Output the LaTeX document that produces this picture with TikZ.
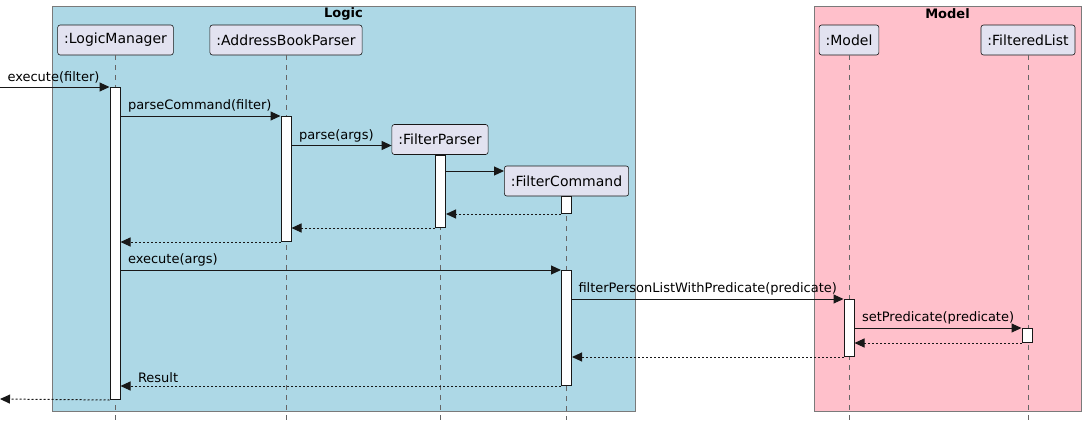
\documentclass[tikz,border=0pt]{standalone}
\usepackage{fontspec}
\setmainfont{DejaVu Sans}
\usetikzlibrary{arrows.meta}
\definecolor{logicblue}{HTML}{ADD8E6}
\definecolor{modelpink}{HTML}{FFC0CB}
\definecolor{partfill}{HTML}{E2E2F0}
\definecolor{ink}{HTML}{181818}
\definecolor{framegray}{HTML}{7A7A7A}
\definecolor{lifegray}{HTML}{666666}

\begin{document}
\begin{tikzpicture}[x=1pt,y=-1pt]
		\useasboundingbox (0,0) rectangle (1087,423);
		\begin{scope}
            [
                frame/.style = {draw=framegray, line width=1pt, anchor=north west, inner sep=0pt, minimum height=405pt},
				title/.style = {font=\fontsize{13}{15}\selectfont\bfseries, inner sep=0pt}
            ]
			\node(logic)[frame, fill=logicblue, minimum width=583pt] at (52,6) {};
			\node(model)[frame, fill=modelpink, minimum width=267pt] at (814,6) {};
			\node(logicT)[title] at (343.5,14) {Logic};
			\node(modelT)[title] at (947.5,14) {Model};
		\end{scope}
		\begin{scope}
            [
                every node/.style={
					draw=ink, fill=partfill, rounded corners=2.5pt, line width=0.6pt,
					inner xsep=6.5pt, minimum height=30pt,
					font=\fontsize{14}{16}\selectfont },
				lifeline/.style = {draw=lifegray, line width=0.8pt, dash pattern=on 5pt off 5pt}
            ]
			\node(lm) at (115.5,40) {:LogicManager};
			\node(abp) at (286,40) {:AddressBookParser};
			\node(fp) at (440,139.5) {:FilterParser};
			\node(fc) at (566.5,181) {:FilterCommand};
			\node(mdl) at (849,40) {:Model};
			\node(fl) at (1028,40) {:FilteredList};
		\end{scope}
		\coordinate (bottom) at (0,420);
		\coordinate (in) at (0,87);
		\coordinate (out) at (0,399);
		\coordinate (fpIn) at ([yshift=-6pt]fp.west);
		\coordinate (fcIn) at ([yshift=10pt]fc.west);
		\foreach \p in {lm,abp,fp,fc,mdl,fl}
			\draw[draw=lifegray, line width=0.8pt, dash pattern=on 5pt off 5pt] (\p.south) -- (\p.south |- bottom);
		\begin{scope}
            [
                every node/.style={
					draw=ink, fill=white, line width=1pt, inner sep=0pt,
					minimum width=10pt, anchor=north }
            ]
			\node(lmA)[minimum height=312pt] at (115,87) {};
			\node(abpA)[minimum height=125pt] at (286,116) {};
			\node(fpA)[minimum height=72pt] at (440.5,155) {};
			\node(fcA1)[minimum height=17pt] at (566.5,196) {};
			\node(fcA2)[minimum height=115pt] at (566.5,270) {};
			\node(mdlA)[minimum height=57pt] at (849,299) {};
			\node(flA)[minimum height=14pt] at (1027,328) {};
		\end{scope}
		\begin{scope}
            [>={Triangle[length=10pt,width=9pt]},
                every node/.style={anchor=south west, inner sep=1pt, yshift=2pt, text=black,
					font=\fontsize{13}{15}\selectfont},
                every edge/.style={draw=ink, line width=1pt, ->},
				ret/.style = {dash pattern=on 2pt off 2pt}
            ]
            \path 
            (in) edge         node[pos=0, xshift=6pt]{execute(filter)}(lmA.north west)
            (lmA.east |- abpA.north) edge         node[pos=0, xshift=6pt]{parseCommand(filter)}(abpA.north west)
			(abpA.east |- fpIn) edge         node[pos=0, xshift=6pt]{parse(args)}(fpIn)
			(fpA.east |- fcIn) edge         (fcIn)
			(fcA1.south west) edge[ret]         (fpA.east |- fcA1.south)
			(fpA.south west) edge[ret]         (abpA.east |- fpA.south)
			(abpA.south west) edge[ret]         (lmA.east |- abpA.south)
			(lmA.east |- fcA2.north) edge         node[pos=0, xshift=6pt]{execute(args)}(fcA2.north west)
			(fcA2.east |- mdlA.north) edge         node[pos=0, xshift=5pt]{filterPersonListWithPredicate(predicate)}(mdlA.north west)
			(mdlA.east |- flA.north) edge         node[pos=0, xshift=6pt]{setPredicate(predicate)}(flA.north west)
			(flA.south west) edge[ret]         (mdlA.east |- flA.south)
			(mdlA.south west) edge[ret]         (fcA2.east |- mdlA.south)
			(fcA2.south west) edge[ret]         node[pos=1, xshift=16pt]{Result}(lmA.east |- fcA2.south)
			(lmA.south west) edge[ret]         (out);
		\end{scope}
    \end{tikzpicture}
\end{document}
